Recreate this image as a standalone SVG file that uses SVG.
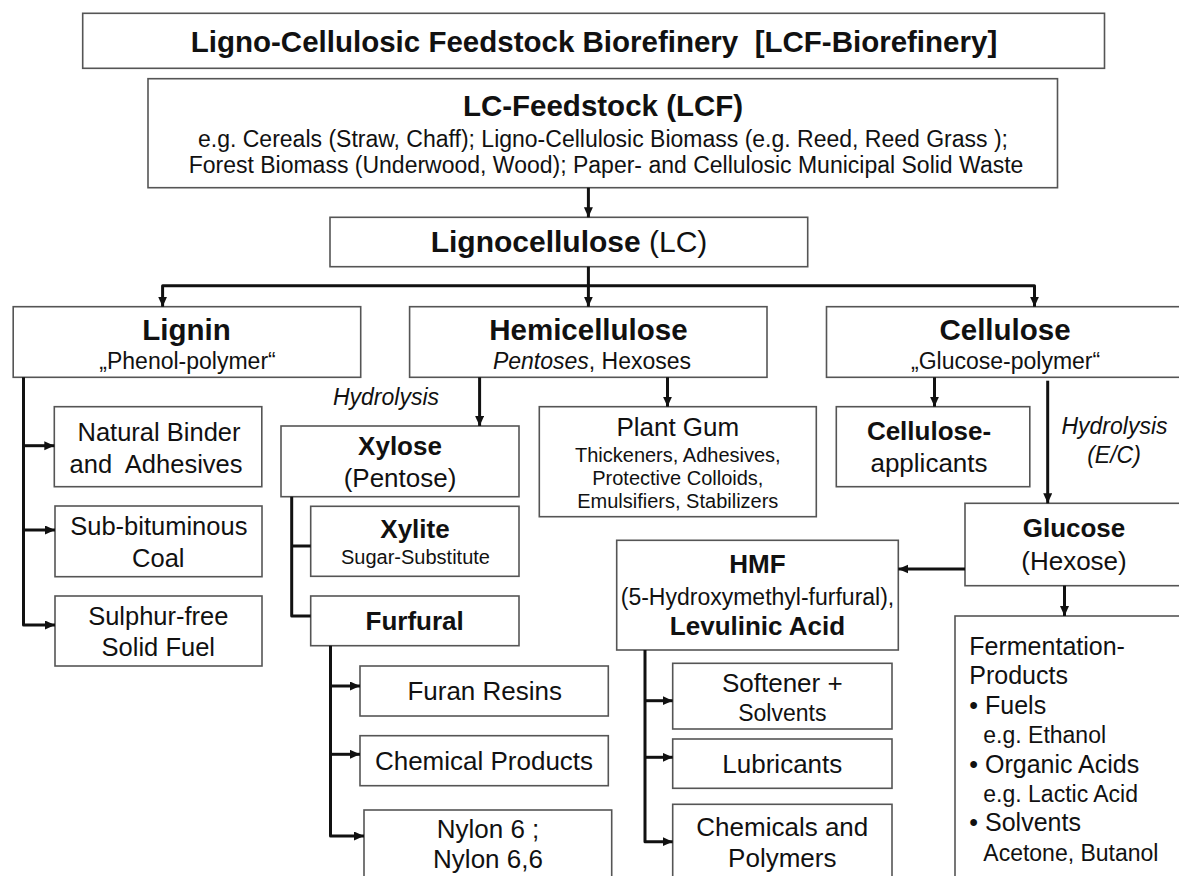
<svg xmlns="http://www.w3.org/2000/svg" width="1179" height="876" viewBox="0 0 1179 876">
<defs>
<marker id="arr" markerUnits="userSpaceOnUse" markerWidth="11" markerHeight="10" refX="10" refY="4.5" orient="auto">
<path d="M0,0 L10,4.5 L0,9 z" fill="#111"/>
</marker>
<style>
.box{fill:#fff;stroke:#555;stroke-width:1.6}
text{font-family:"Liberation Sans",Arial,sans-serif;fill:#111;text-anchor:middle}
.h{font-weight:bold;font-size:29.5px}
.b{font-weight:bold;font-size:26px}
.r{font-size:26px}
.s{font-size:23px}
.xs{font-size:20px}
.i{font-style:italic}
.l{text-anchor:start}
.f{font-size:25px}
.fs{font-size:23px}
.c{fill:none;stroke:#111;stroke-width:3;stroke-linejoin:round}
.a{marker-end:url(#arr)}
</style>
</defs>
<rect width="1179" height="876" fill="#fff"/>

<g id="title">
<rect class="box" x="82.7" y="13.3" width="1021.8" height="55"/>
<text class="h" x="594" y="51.7" xml:space="preserve">Ligno-Cellulosic Feedstock Biorefinery  [LCF-Biorefinery]</text>
</g>

<g id="lcf">
<rect class="box" x="148" y="78.7" width="909.5" height="109"/>
<text class="h" x="603" y="116">LC-Feedstock (LCF)</text>
<text class="s" x="603" y="146.7">e.g. Cereals (Straw, Chaff); Ligno-Cellulosic Biomass (e.g. Reed, Reed Grass );</text>
<text class="s" x="606" y="173.3">Forest Biomass (Underwood, Wood); Paper- and Cellulosic Municipal Solid Waste</text>
</g>

<g id="lignocellulose">
<rect class="box" x="330" y="217.3" width="477.7" height="49.4"/>
<text x="569" y="252" style="font-size:30px"><tspan font-weight="bold">Lignocellulose</tspan> (LC)</text>
</g>

<g id="lignin">
<rect class="box" x="13.2" y="306.7" width="347.5" height="70.6"/>
<text class="h" x="186.6" y="340">Lignin</text>
<text class="s" x="187.5" y="369">„Phenol-polymer“</text>
</g>

<g id="hemicellulose">
<rect class="box" x="409.6" y="306.7" width="357.4" height="70.6"/>
<text class="h" x="588.4" y="340">Hemicellulose</text>
<text class="s" x="592" y="369"><tspan font-style="italic">Pentoses</tspan>, Hexoses</text>
</g>

<g id="cellulose">
<rect class="box" x="826.5" y="306.7" width="360" height="70.6"/>
<text class="h" x="1005" y="340">Cellulose</text>
<text class="s" x="1005.6" y="369">„Glucose-polymer“</text>
</g>

<g id="natural-binder">
<rect class="box" x="54.3" y="406.7" width="207.5" height="80"/>
<text class="r" x="159" y="441" style="font-size:25.5px">Natural Binder</text>
<text class="r" x="156" y="472.7" style="font-size:25.5px" xml:space="preserve">and  Adhesives</text>
</g>

<g id="sub-bituminous">
<rect class="box" x="55" y="506" width="207" height="70.7"/>
<text class="r" x="158.8" y="535" style="font-size:25.5px">Sub-bituminous</text>
<text class="r" x="158.3" y="567" style="font-size:25.5px">Coal</text>
</g>

<g id="sulphur-free">
<rect class="box" x="55" y="596" width="207" height="70"/>
<text class="r" x="158.3" y="625" style="font-size:25.5px">Sulphur-free</text>
<text class="r" x="158.3" y="656" style="font-size:25.5px">Solid Fuel</text>
</g>

<g id="hydrolysis-1">
<text class="s i" x="386" y="405">Hydrolysis</text>
</g>

<g id="xylose">
<rect class="box" x="281" y="426" width="238" height="70.7"/>
<text class="b" x="400" y="455">Xylose</text>
<text class="r" x="400" y="486.7">(Pentose)</text>
</g>

<g id="xylite">
<rect class="box" x="310.7" y="506.3" width="208.3" height="70"/>
<text class="b" x="415" y="538">Xylite</text>
<text class="xs" x="415.5" y="564">Sugar-Substitute</text>
</g>

<g id="furfural">
<rect class="box" x="310.7" y="596" width="208.3" height="49.7"/>
<text class="b" x="414.7" y="630">Furfural</text>
</g>

<g id="plant-gum">
<rect class="box" x="539.3" y="406.7" width="277" height="110"/>
<text class="r" x="677.8" y="435.7">Plant Gum</text>
<text class="xs" x="677.8" y="461.7">Thickeners, Adhesives,</text>
<text class="xs" x="677.8" y="485">Protective Colloids,</text>
<text class="xs" x="677.8" y="508.3">Emulsifiers, Stabilizers</text>
</g>

<g id="cellulose-applicants">
<rect class="box" x="836.3" y="406.7" width="193.5" height="80"/>
<text class="b" x="929" y="440">Cellulose-</text>
<text class="r" x="929" y="471.7">applicants</text>
</g>

<g id="hydrolysis-2">
<text class="s i" x="1114.5" y="434">Hydrolysis</text>
<text class="s i" x="1114" y="463.3">(E/C)</text>
</g>

<g id="glucose">
<rect class="box" x="965" y="503.3" width="222" height="82.4"/>
<text class="b" x="1074" y="536.7">Glucose</text>
<text class="r" x="1074" y="570">(Hexose)</text>
</g>

<g id="hmf">
<rect class="box" x="616.7" y="540.3" width="281.6" height="109.7"/>
<text class="b" x="757.5" y="573.3">HMF</text>
<text class="s" x="757.5" y="605">(5-Hydroxymethyl-furfural),</text>
<text class="b" x="757.5" y="635">Levulinic Acid</text>
</g>

<g id="furan-resins">
<rect class="box" x="360" y="666" width="248.3" height="50"/>
<text class="r" x="484.7" y="700">Furan Resins</text>
</g>

<g id="chemical-products">
<rect class="box" x="360" y="735.7" width="248.3" height="50"/>
<text class="r" x="484" y="770">Chemical Products</text>
</g>

<g id="nylon">
<rect class="box" x="364" y="810" width="247.7" height="75"/>
<text class="r" x="488" y="838.3">Nylon 6 ;</text>
<text class="r" x="488" y="868.3">Nylon 6,6</text>
</g>

<g id="softener">
<rect class="box" x="672.7" y="663.3" width="219.3" height="65.7"/>
<text class="r" x="782.3" y="691.7">Softener +</text>
<text class="s" x="782.3" y="721">Solvents</text>
</g>

<g id="lubricants">
<rect class="box" x="672.7" y="739" width="219.3" height="49.3"/>
<text class="r" x="782.3" y="773.3">Lubricants</text>
</g>

<g id="chemicals-polymers">
<rect class="box" x="672.7" y="804.3" width="219.3" height="80"/>
<text class="r" x="782.3" y="836">Chemicals and</text>
<text class="r" x="782.3" y="867.3">Polymers</text>
</g>

<g id="fermentation">
<rect class="box" x="955" y="616" width="232" height="270"/>
<text class="f l" x="969.3" y="655">Fermentation-</text>
<text class="f l" x="969.3" y="684.4">Products</text>
<text class="f l" x="969.3" y="713.8">• Fuels</text>
<text class="fs l" x="983.3" y="743.2">e.g. Ethanol</text>
<text class="f l" x="969.3" y="772.6">• Organic Acids</text>
<text class="fs l" x="983.3" y="802">e.g. Lactic Acid</text>
<text class="f l" x="969.3" y="831.4">• Solvents</text>
<text class="fs l" x="983.3" y="860.8">Acetone, Butanol</text>
</g>

<g id="connectors">
<path class="c a" d="M588.4,187.7 V217.3"/>
<path class="c a" d="M588.4,266.7 V306.7"/>
<path class="c a" d="M588.4,285.7 H162.6 V306.7"/>
<path class="c a" d="M588.4,285.7 H1034.5 V306.7"/>
<path class="c a" d="M23.5,377.3 V625 H55"/>
<path class="c a" d="M23.5,445.7 H54.3"/>
<path class="c a" d="M23.5,530 H55"/>
<path class="c a" d="M479.6,377.3 V426"/>
<path class="c a" d="M667.5,377.3 V406.7"/>
<path class="c" d="M291.7,496.7 V616 H310.7"/>
<path class="c" d="M291.7,546 H310.7"/>
<path class="c a" d="M330.5,645.7 V836 H364"/>
<path class="c a" d="M330.5,686 H360"/>
<path class="c a" d="M330.5,754.3 H360"/>
<path class="c a" d="M934.5,377.3 V406.7"/>
<path class="c a" d="M1047.7,380.7 V503.3"/>
<path class="c a" d="M965,569 H898.3"/>
<path class="c a" d="M1064.5,585.7 V616"/>
<path class="c a" d="M645,650 V841.7 H672.7"/>
<path class="c a" d="M645,700.7 H672.7"/>
<path class="c a" d="M645,757.3 H672.7"/>
</g>
</svg>
